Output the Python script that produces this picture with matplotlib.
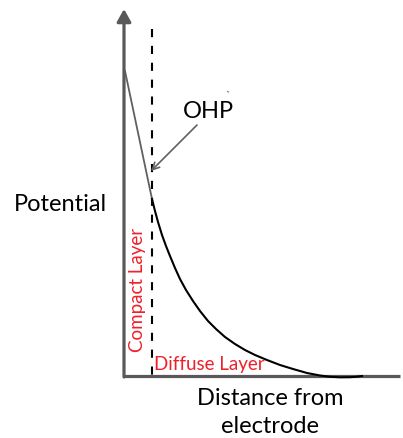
import matplotlib
matplotlib.use("Agg")
import matplotlib.pyplot as plt

# ---- data (arbitrary schematic units: distance from electrode, potential) ----
compact_distance = [0.1, 2.8]
compact_potential = [30.5, 17.7]

diffuse_distance = [2.8, 3.1, 3.4, 3.8, 4.2, 4.6, 5.1, 5.6, 6.2, 6.9, 7.6, 8.4,
                    9.2, 10.1, 11.1, 12.1, 13.1, 14.3, 15.6, 16.9, 18.3, 19.6,
                    20.6, 21.6, 22.6, 23.2, 23.8]
diffuse_potential = [17.7, 16.5, 15.4, 14.1, 13.0, 12.0, 10.8, 9.7, 8.6, 7.5,
                     6.5, 5.5, 4.7, 3.9, 3.2, 2.6, 2.1, 1.6, 1.1, 0.7, 0.3,
                     0.05, -0.08, -0.13, -0.12, -0.08, 0.0]

ohp_distance = 2.8
labels = {"y": "Potential", "x": "Distance from\nelectrode", "ohp": "OHP",
          "compact": "Compact Layer", "diffuse": "Diffuse Layer"}

FONT = ["Lato", "DejaVu Sans"]
AXIS_GRAY = "#595959"
RED = "#f0202a"

fig = plt.figure(figsize=(4.03, 4.39), dpi=100)
ax = fig.add_axes([0, 0, 1, 1])
ax.set_xlim(-12.4, 27.9)
ax.set_ylim(-6.2, 37.7)
ax.axis("off")

# axes of the schematic
ax.plot([-0.1, 27.6], [0, 0], color=AXIS_GRAY, lw=2.3, solid_capstyle="butt")
ax.annotate("", xy=(0, 36.7), xytext=(0, -0.1),
            arrowprops=dict(arrowstyle="-|>,head_length=0.75,head_width=0.42",
                            mutation_scale=10, color=AXIS_GRAY, lw=2.3,
                            shrinkA=0, shrinkB=0))

# OHP dashed line
ax.plot([ohp_distance, ohp_distance], [34.7, -0.6], color="black", lw=1.5,
        linestyle=(0, (3.9, 4.2)))

# compact layer linear drop
ax.plot(compact_distance, compact_potential, color="#606060", lw=1.3)
# diffuse layer decay
ax.plot(diffuse_distance, diffuse_potential, color="black", lw=1.5,
        solid_joinstyle="round")

# OHP label and arrow
ax.text(8.4, 26.5, labels["ohp"], fontsize=17, family=FONT, ha="center",
        va="center")
ax.annotate("", xy=(2.7, 20.5), xytext=(7.3, 25.1),
            arrowprops=dict(arrowstyle="->,head_length=0.5,head_width=0.25",
                            mutation_scale=10, color="#606060", lw=1.2,
                            shrinkA=0, shrinkB=0))
ax.plot([10.35, 10.45], [28.45, 28.4], color="#808080", lw=0.8)

# axis titles
ax.text(-6.4, 17.2, labels["y"], fontsize=17, family=FONT, ha="center",
        va="center")
ax.text(14.6, -3.55, labels["x"], fontsize=17, family=FONT, ha="center",
        va="center", linespacing=1.4)

# region labels
ax.text(1.3, 8.7, labels["compact"], fontsize=13.5, family=FONT, ha="center",
        va="center", rotation=90, color=RED)
ax.text(3.0, 1.2, labels["diffuse"], fontsize=13.5, family=FONT, ha="left",
        va="center", color=RED)

fig.savefig("out.png", dpi=100)
